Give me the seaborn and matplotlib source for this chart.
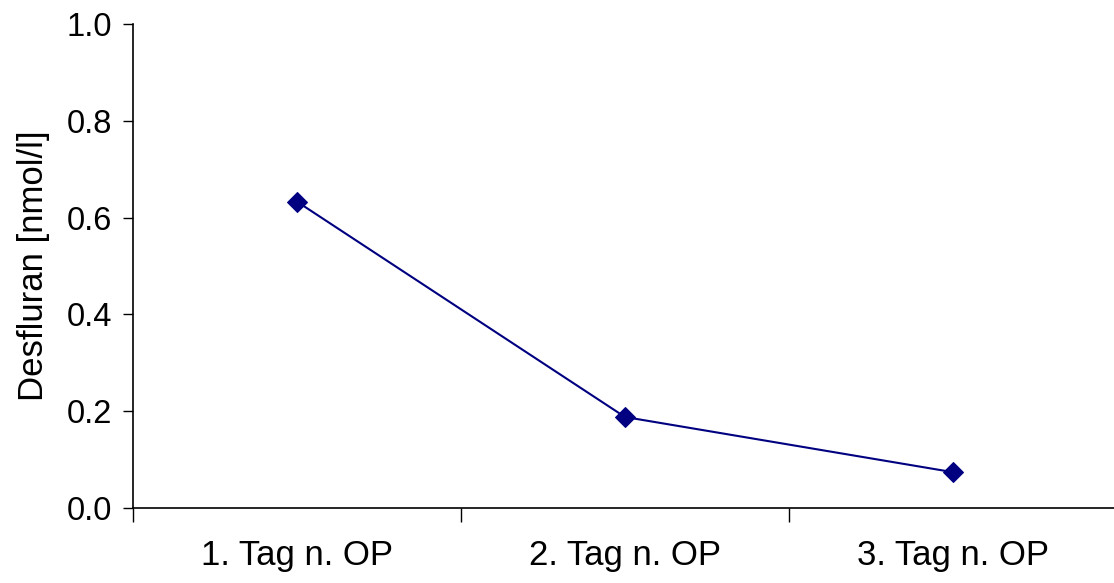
import matplotlib
matplotlib.use('Agg')
import matplotlib.pyplot as plt
import seaborn as sns
import pandas as pd

# data
days = ['1. Tag n. OP', '2. Tag n. OP', '3. Tag n. OP']
desfluran = [0.633, 0.188, 0.074]

sns.set_style('white')
plt.rcParams['font.family'] = ['Liberation Sans', 'DejaVu Sans']
plt.rcParams['text.color'] = 'black'
plt.rcParams['xtick.color'] = 'black'
plt.rcParams['ytick.color'] = 'black'
plt.rcParams['axes.labelcolor'] = 'black'

df = pd.DataFrame({'day': days, 'value': desfluran})

fig = plt.figure(figsize=(11.14, 5.83), dpi=100)
ax = fig.add_axes([133 / 1114, 75 / 583, 984 / 1114, 484 / 583])

sns.lineplot(data=df, x='day', y='value', ax=ax, color='#000080',
             linewidth=1.5, marker='D', markersize=10,
             markeredgecolor='#000080', sort=False)

ax.set_xlim(-0.5, 2.5)
ax.set_ylim(0, 1.0)
ax.set_yticks([0, 0.2, 0.4, 0.6, 0.8, 1.0])
ax.set_yticklabels(['0.0', '0.2', '0.4', '0.6', '0.8', '1.0'])

# category boundaries as major ticks, labels on minor ticks
ax.set_xticks([-0.5, 0.5, 1.5, 2.5])
ax.set_xticklabels([])
ax.set_xticks([0, 1, 2], minor=True)
ax.set_xticklabels(days, minor=True)

ax.tick_params(axis='y', which='major', direction='out', length=7, width=1,
               labelsize=23.5, pad=8, left=True)
ax.tick_params(axis='x', which='major', direction='out', length=10, width=1,
               bottom=True)
ax.tick_params(axis='x', which='minor', length=0, labelsize=25, pad=22)

ax.set_xlabel('')
ax.set_ylabel('Desfluran [nmol/l]', fontsize=25, labelpad=12)

for side in ['top', 'right']:
    ax.spines[side].set_visible(False)
for side in ['left', 'bottom']:
    ax.spines[side].set_color('black')
    ax.spines[side].set_linewidth(1.2)

ax.grid(False)
fig.savefig('out.png', dpi=100)
plt.close()
